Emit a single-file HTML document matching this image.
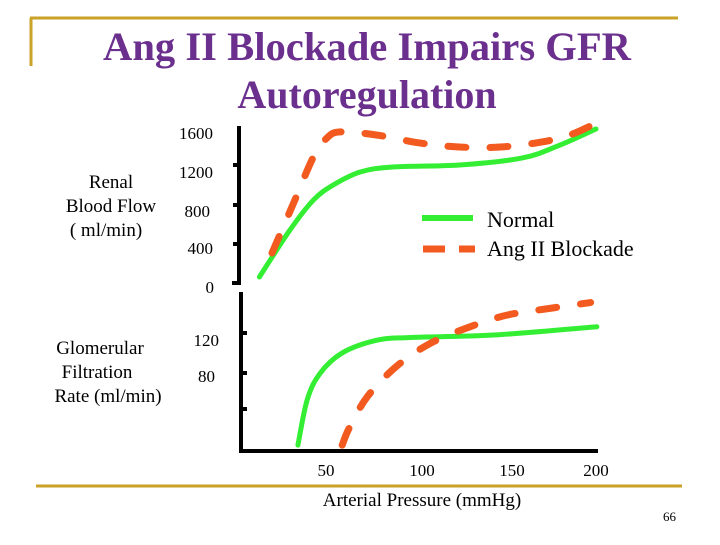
<!DOCTYPE html>
<html><head><meta charset="utf-8"><style>
body{margin:0;background:#fff}
svg text{font-family:"Liberation Serif",serif}
</style></head><body>
<svg width="720" height="540" viewBox="0 0 720 540" xmlns="http://www.w3.org/2000/svg">
<g>
<line x1="30" y1="18" x2="678" y2="18" stroke="#c9a227" stroke-width="3"/>
<line x1="31" y1="18" x2="31" y2="66" stroke="#c9a227" stroke-width="3"/>
<line x1="36" y1="486" x2="682" y2="486" stroke="#c9a227" stroke-width="3"/>
</g>
<text x="367" y="60" text-anchor="middle" font-size="40" font-weight="bold" fill="#6b2f8e" textLength="528" lengthAdjust="spacingAndGlyphs">Ang II  Blockade Impairs GFR</text>
<text x="367" y="108" text-anchor="middle" font-size="40" font-weight="bold" fill="#6b2f8e">Autoregulation</text>

<g font-size="19" text-anchor="middle">
<text x="111" y="188">Renal</text><text x="111" y="212">Blood Flow</text><text x="106" y="236">( ml/min)</text></g>
<g font-size="19" text-anchor="middle">
<text x="100" y="354">Glomerular</text><text x="97" y="378">Filtration</text><text x="108" y="402">Rate (ml/min)</text></g>

<g font-size="17" text-anchor="end">
<text x="213" y="139">1600</text><text x="213" y="178">1200</text><text x="210" y="217">800</text><text x="213" y="254">400</text><text x="214" y="293">0</text></g>
<g font-size="17" text-anchor="end">
<text x="219" y="346">120</text><text x="215" y="382">80</text></g>
<g font-size="17" text-anchor="middle">
<text x="326" y="476">50</text><text x="422" y="476">100</text><text x="512" y="476">150</text><text x="596" y="476">200</text></g>
<text x="422" y="506" text-anchor="middle" font-size="19">Arterial Pressure (mmHg)</text>
<text x="676" y="521" text-anchor="end" font-size="13">66</text>

<g stroke="#000" stroke-width="4">
<line x1="239" y1="126" x2="239" y2="285"/>
<line x1="232" y1="283" x2="241" y2="283"/>
<line x1="233" y1="165" x2="239" y2="165"/><line x1="233" y1="205" x2="239" y2="205"/><line x1="233" y1="244" x2="239" y2="244"/>
<line x1="241" y1="292" x2="241" y2="453"/>
<line x1="239" y1="451" x2="598" y2="451"/>
<line x1="241" y1="333" x2="247" y2="333"/><line x1="241" y1="373" x2="247" y2="373"/><line x1="241" y1="409" x2="247" y2="409"/>
</g>

<g>
<line x1="422" y1="218" x2="473" y2="218" stroke="#33ee33" stroke-width="6"/>
<text x="487" y="227" font-size="22">Normal</text>
<line x1="423" y1="249" x2="475" y2="249" stroke="#f25a1f" stroke-width="7" stroke-dasharray="22,14"/>
<text x="487" y="256" font-size="22">Ang II Blockade</text>
</g>
<g id="plot"></g>
</svg>
<script>
const rbfNormalX=[13,30,43,54,69,87,124,159,180,200];
const rbfNormalY=[61,537,840,992,1124,1175,1195,1266,1397,1560];
const rbfBlockX=[20,32,43,50.5,58,78,102,124,147,170,185.5,198];
const rbfBlockY=[304,810,1276,1468,1530,1499,1418,1377,1377,1428,1499,1600];
const gfrNormalX=[34.4,39.6,46.7,59,78,97,143,200.5];
const gfrNormalY=[4,51,78,99,112,115,117.5,126];
const gfrBlockX=[59,63,73,89,108,130,150.5,174.4,197];
const gfrBlockY=[4,22,54,85,109,126,138,145,151];
function xs(v){return 326+(v-50)*1.8;}
function yRbf(v){return 283-v/400*39.5;}
function yGfr(v){return 449-v*0.97;}
function pathOf(X,Y,ys){
  const p=X.map((x,i)=>[xs(x),ys(Y[i])]);
  let d='M'+p[0][0]+','+p[0][1];
  for(let i=0;i<p.length-1;i++){
    const p0=p[i-1]||p[i],p1=p[i],p2=p[i+1],p3=p[i+2]||p2;
    const c1x=p1[0]+(p2[0]-p0[0])/6,c1y=p1[1]+(p2[1]-p0[1])/6;
    const c2x=p2[0]-(p3[0]-p1[0])/6,c2y=p2[1]-(p3[1]-p1[1])/6;
    d+=' C'+c1x+','+c1y+' '+c2x+','+c2y+' '+p2[0]+','+p2[1];
  }
  return d;
}
const g=document.getElementById('plot');
function add(name,X,Y,ys,color,dash,w){
  const el=document.createElementNS('http://www.w3.org/2000/svg','path');
  el.setAttribute('d',pathOf(X,Y,ys));
  el.setAttribute('fill','none');
  el.setAttribute('stroke',color);
  el.setAttribute('stroke-width',w);
  el.setAttribute('stroke-linecap','round');
  if(dash)el.setAttribute('stroke-dasharray',dash);
  
  
  g.appendChild(el);
}
add('rbf-normal-line',rbfNormalX,rbfNormalY,yRbf,'#33ee33',null,'5');
add('rbf-blockade-line',rbfBlockX,rbfBlockY,yRbf,'#f25a1f','18,24','7');
add('gfr-normal-line',gfrNormalX,gfrNormalY,yGfr,'#33ee33',null,'5');
add('gfr-blockade-line',gfrBlockX,gfrBlockY,yGfr,'#f25a1f','18,24','7');
</script>
</body></html>
